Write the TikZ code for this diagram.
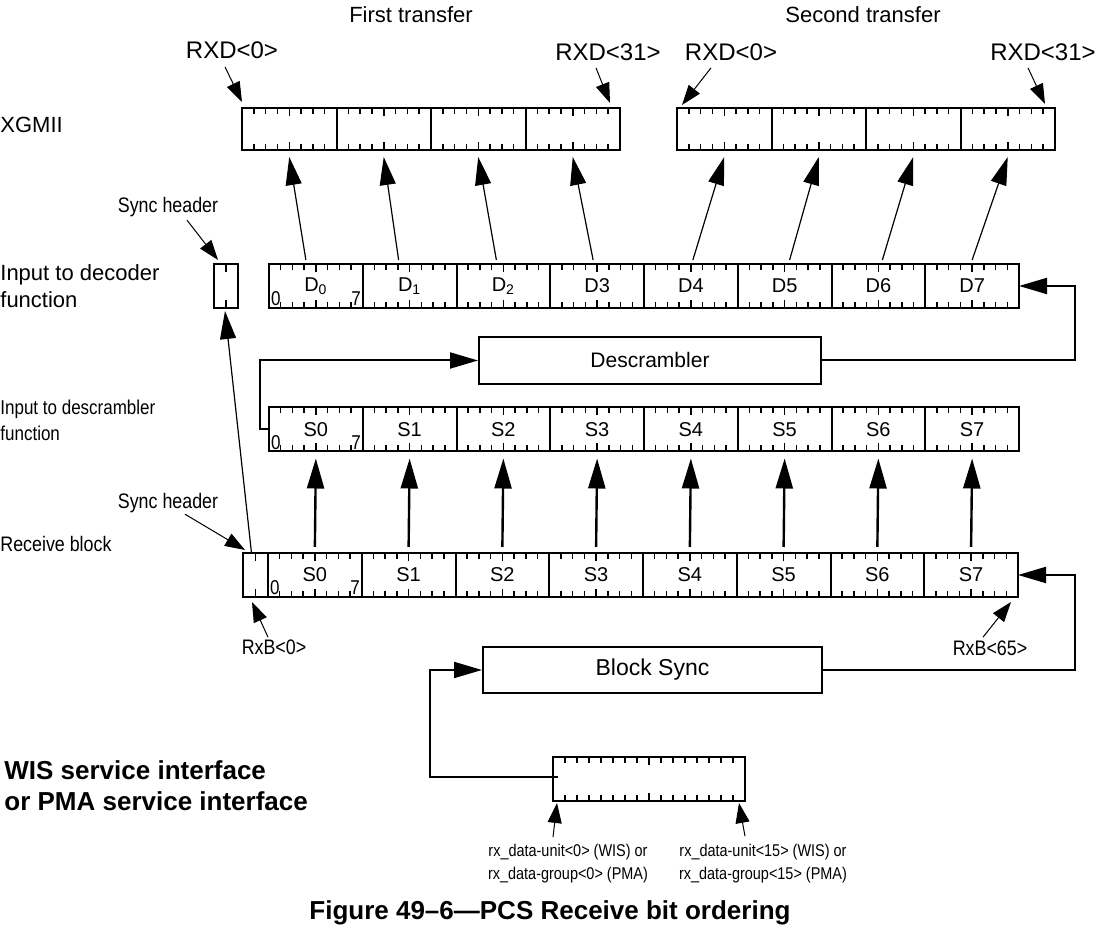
\documentclass[tikz,border=0pt]{standalone}
\usepackage{fontspec}
\setmainfont{Liberation Sans}
\newfontfamily\narrowfont[FakeStretch=0.85]{Liberation Sans}
\usetikzlibrary{arrows.meta,calc,positioning}

\begin{document}
\begin{tikzpicture}[x=0.5pt,y=-0.5pt,
   ticks/.style 2 args={path picture={
      \foreach \k in {1,...,#1} {
         \pgfmathsetmacro\tl{(2*\k==#2) ? 4 : 3}
         \draw[line width=0.75pt]
            ($(path picture bounding box.north west)!\k/#2!(path picture bounding box.north east)$) -- ++(0,-\tl pt)
            ($(path picture bounding box.south west)!\k/#2!(path picture bounding box.south east)$) -- ++(0,\tl pt);
      }}},
   byte/.style={draw, line width=1pt, outer sep=0pt, inner sep=0pt,
      minimum width=46.875pt, minimum height=22pt,
      font=\fontsize{10}{12}\selectfont, ticks={7}{8}},
   xbyte/.style={byte, minimum width=47.25pt, minimum height=21pt},
   hdrbox/.style={byte, minimum width=#1, ticks={1}{2}},
   block/.style={draw, line width=1pt, inner sep=0pt},
   lbl/.style={inner sep=0pt, font=\fontsize{11}{13.5}\selectfont},
   rxd/.style={inner sep=0pt, font=\fontsize{12}{14}\selectfont},
   nlbl/.style={inner sep=0pt, font=\narrowfont\fontsize{10.5}{13}\selectfont},
   bitno/.style={inner sep=0.8pt, font=\narrowfont\fontsize{10}{11}\selectfont},
   ptr/.style={line width=0.5pt, -{Triangle[length=10pt,width=7pt]}},
   uparrow/.style={line width=0.6pt, -{Triangle[length=14pt,width=8pt]}},
   fatarrow/.style={line width=1.2pt, -{Triangle[length=15pt,width=8.5pt]}},
   feed/.style={line width=1pt, -{Triangle[length=14pt,width=8pt]}}]

   \useasboundingbox (0,0) rectangle (1100,929);

   % XGMII
   \node[lbl] (first) at (411,15) {First transfer};
   \node[lbl] (second) at (863,15) {Second transfer};
   \node[lbl, anchor=west] (xgmii) at (0,125) {XGMII};
   \node[xbyte, anchor=west] (x0) at (242,129) {};
   \foreach \i [evaluate=\i as \p using int(\i-1)] in {1,2,3}
      \node[xbyte, right=0pt of x\p] (x\i) {};
   \node[xbyte, anchor=west] (x4) at (677,129) {};
   \foreach \i [evaluate=\i as \p using int(\i-1)] in {5,6,7}
      \node[xbyte, right=0pt of x\p] (x\i) {};
   \node[rxd] (rxd0a) at (232,50) {RXD<0>};
   \node[rxd] (rxd31a) at (608,52) {RXD<31>};
   \node[rxd] (rxd0b) at (731,52) {RXD<0>};
   \node[rxd] (rxd31b) at (1043,52) {RXD<31>};
   \draw[ptr] ([shift={(-3.5pt,-4pt)}]rxd0a.south) -- ([shift={(0pt,3pt)}]x0.north west);
   \draw[ptr] ([shift={(-6pt,-3.5pt)}]rxd31a.south) -- ([shift={(-5pt,2.5pt)}]x3.north east);
   \draw[ptr] ([shift={(-10pt,-3.5pt)}]rxd0b.south) -- ([shift={(2.5pt,1.5pt)}]x4.north west);
   \draw[ptr] ([shift={(-7.5pt,-3.5pt)}]rxd31b.south) -- ([shift={(-5pt,2pt)}]x7.north east);

   % input to decoder
   \node[lbl, anchor=west, align=left] (declbl) at (0,286) {Input to decoder\\function};
   \node[hdrbox=12pt] (hd) at (226,286) {};
   \node[byte, anchor=west] (d0) at (269,286) {D\textsubscript{0}};
   \foreach \i/\t [evaluate=\i as \p using int(\i-1)] in
      {1/D\textsubscript{1},2/D\textsubscript{2},3/D3,4/D4,5/D5,6/D6,7/D7}
      \node[byte, right=0pt of d\p] (d\i) {\t};
   \node[nlbl] (sh1) at (168,207) {Sync header};
   \draw[ptr] ([shift={(9.5pt,-1.5pt)}]sh1.south) -- ([shift={(2pt,2pt)}]hd.north west);
   \foreach \i/\dx in {0/-5,1/-5.5,2/-3.5,3/-2,4/1,5/2.5,6/2,7/0}
      \draw[uparrow] ([xshift=\dx pt,yshift=2pt]d\i.north) -- ([yshift=-3.5pt]x\i.south);

   % descrambler
   \node[block, minimum width=171pt, minimum height=23.5pt, font=\fontsize{10.5}{12}\selectfont]
      (descr) at (650,360.5) {Descrambler};
   \node[nlbl, anchor=west, align=left, font=\narrowfont\fontsize{10}{13}\selectfont]
      (dsclbl) at (0,420) {Input to descrambler\\function};
   \node[byte, anchor=west] (s0) at (269,429.5) {S0};
   \foreach \i [evaluate=\i as \p using int(\i-1)] in {1,...,7}
      \node[byte, right=0pt of s\p] (s\i) {S\i};
   \draw[feed] (s0.west) -- ++(-4.5pt,0) |- (descr.west);
   \draw[feed] (descr.east) -| ([xshift=28pt]d7.east) -- (d7.east);

   % receive block
   \node[nlbl] (sh2) at (168,503) {Sync header};
   \node[nlbl, anchor=west] (rxlbl) at (0,544) {Receive block};
   \node[hdrbox=12.5pt, anchor=west] (hr) at (243,575) {};
   \node[byte, right=0pt of hr] (r0) {S0};
   \foreach \i [evaluate=\i as \p using int(\i-1)] in {1,...,7}
      \node[byte, right=0pt of r\p] (r\i) {S\i};
   \foreach \i in {0,...,7}
      \draw[fatarrow] ([yshift=3pt]r\i.north) -- ([yshift=-3.5pt]s\i.south);
   \foreach \r in {d0,s0,r0} {
      \node[bitno, anchor=south west] (\r-lo) at (\r.south west) {0};
      \node[bitno, anchor=south east] (\r-hi) at (\r.south east) {7};
   }
   \draw[ptr] ([shift={(8.5pt,-0.5pt)}]sh2.south) -- ([shift={(1pt,1.5pt)}]hr.north west);
   \draw[uparrow] ([xshift=-2pt]hr.north) -- ([shift={(-0.5pt,-1.5pt)}]hd.south);
   \node[nlbl] (rxb0) at (274,647) {RxB<0>};
   \node[nlbl] (rxb65) at (990,648) {RxB<65>};
   \draw[ptr] ([shift={(-3pt,1pt)}]rxb0.north) -- ([shift={(-1.75pt,-2.5pt)}]hr.south);
   \draw[ptr] ([shift={(-3.5pt,1.5pt)}]rxb65.north) -- ([shift={(-3.5pt,-2.5pt)}]r7.south east);

   % block sync and service interface
   \node[block, minimum width=169.5pt, minimum height=23pt, font=\fontsize{11.5}{13}\selectfont]
      (bsync) at (652.5,670) {Block Sync};
   \draw[feed] (bsync.east) -| ([xshift=28.5pt]r7.east) -- (r7.east);
   \node[byte, minimum width=96pt, ticks={15}{16}] (pma) at (649,779) {};
   \draw[feed] ([xshift=2.5pt,yshift=1pt]pma.west) -| ([xshift=-26pt]bsync.west) -- (bsync.west);
   \node[anchor=west, align=left, inner sep=0pt, font=\bfseries\fontsize{13}{15.5}\selectfont]
      (wis) at (4,786) {WIS service interface\\or PMA service interface};
   \node[align=center, inner sep=0pt, font=\narrowfont\fontsize{8.5}{11.5}\selectfont]
      (rxlo) at (568,864) {rx\_data-unit<0> (WIS) or\\rx\_data-group<0> (PMA)};
   \node[align=center, inner sep=0pt, font=\narrowfont\fontsize{8.5}{11.5}\selectfont]
      (rxhi) at (763,864) {rx\_data-unit<15> (WIS) or\\rx\_data-group<15> (PMA)};
   \draw[ptr] ([shift={(-7.5pt,3.5pt)}]rxlo.north) -- ([shift={(2pt,-1pt)}]pma.south west);
   \draw[ptr] ([shift={(-9pt,4pt)}]rxhi.north) -- ([shift={(-3pt,-1pt)}]pma.south east);

   \node[inner sep=0pt, font=\bfseries\fontsize{13}{15}\selectfont] (title) at (550,913)
      {Figure 49--6---PCS Receive bit ordering};
\end{tikzpicture}
\end{document}
